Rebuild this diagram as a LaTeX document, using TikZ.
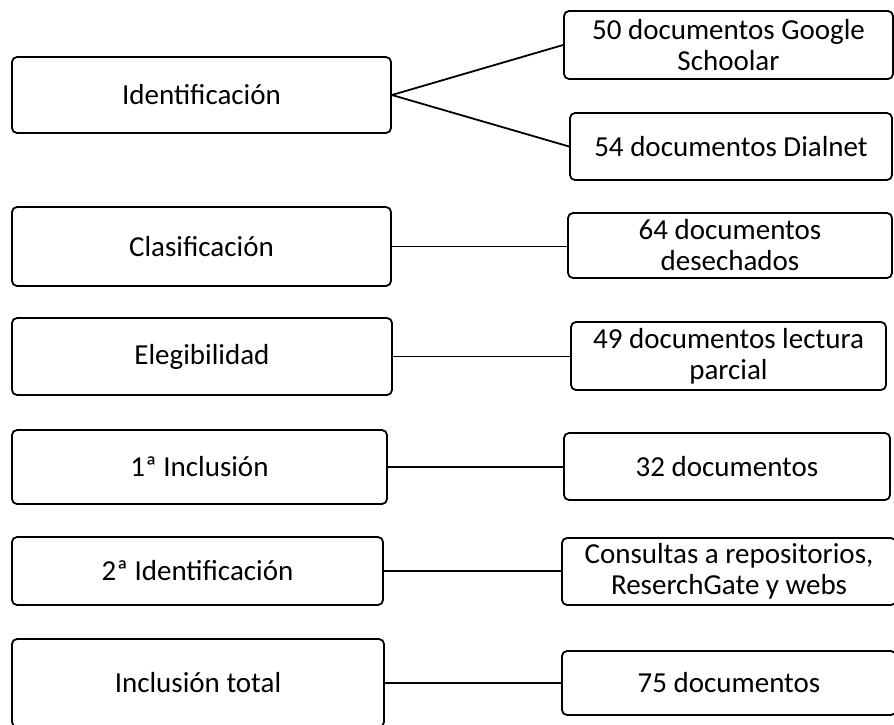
\documentclass[tikz,border=0pt]{standalone}
\usepackage{fontspec}
\setmainfont{Carlito}
\begin{document}
\begin{tikzpicture}[x=1pt, y=-1pt,
  etapa/.style={draw, line width=1.8pt, rounded corners=5pt, inner sep=0pt,
    align=center, font=\fontsize{29}{31}\selectfont},
  enlace/.style={line width=1.8pt}]
  % Page frame
  \useasboundingbox (0,0) rectangle (894,724);
  \clip (0,0) rectangle (894,724);

  % Stages (left column)
  \node[etapa, minimum width=379pt, minimum height=76pt] (ident) at (201.5,95) {Identificación};
  \node[etapa, minimum width=379pt, minimum height=79pt] (clasif) at (201.5,246.5) {Clasificación};
  \node[etapa, minimum width=380pt, minimum height=77pt] (elegib) at (202,356.5) {Elegibilidad};
  \node[etapa, minimum width=375pt, minimum height=74pt] (incl1) at (199.5,467) {1ª Inclusión};
  \node[etapa, minimum width=371pt, minimum height=68pt] (ident2) at (197.5,571) {2ª Identificación};
  \node[etapa, minimum width=372pt, minimum height=88pt] (incltot) at (198,683) {Inclusión total};

  % Results (right column)
  \node[etapa, minimum width=329pt, minimum height=68pt] (google) at (728.5,45) {50 documentos Google\\Schoolar};
  \node[etapa, minimum width=322pt, minimum height=67pt] (dialnet) at (731,146.5) {54 documentos Dialnet};
  \node[etapa, minimum width=324pt, minimum height=65pt] (desech) at (730,245.5) {64 documentos\\desechados};
  \node[etapa, minimum width=315pt, minimum height=68pt] (lectura) at (728.5,356) {49 documentos lectura\\parcial};
  \node[etapa, minimum width=326pt, minimum height=67pt] (doc32) at (727,466.5) {32 documentos};
  \node[etapa, minimum width=334pt, minimum height=67pt] (consul) at (729,571.5) {Consultas a repositorios,\\ReserchGate y webs};
  \node[etapa, minimum width=334pt, minimum height=64pt] (doc75) at (729,683) {75 documentos};

  % Links
  \draw[enlace] (ident.east) -- (google.west);
  \draw[enlace] (ident.east) -- (dialnet.west);
  \foreach \a/\b in {clasif/desech, elegib/lectura, incl1/doc32, ident2/consul, incltot/doc75}
  {
    \draw[enlace] (\a.east) -- (\a.east -| \b.west);
  }
\end{tikzpicture}
\end{document}
